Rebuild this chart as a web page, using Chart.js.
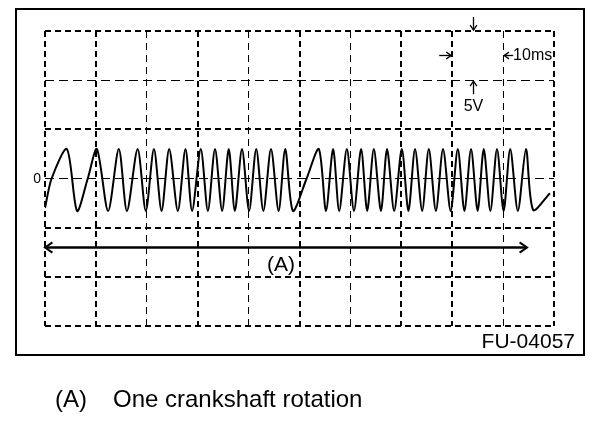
<!DOCTYPE html>
<html>
<head>
<meta charset="utf-8">
<title>Crank angle sensor waveform</title>
<script src="https://cdn.jsdelivr.net/npm/chart.js@4/dist/chart.umd.min.js"></script>
<style>
    html, body { margin: 0; padding: 0; background: #fff; }
    canvas { display: block; }
</style>
</head>
<body>
<canvas id="scope" width="608" height="430"></canvas>
<script>
// waveform: time in ms (10 ms/div), voltage in V (5 V/div)
const timeMs = [
    0, 1.3, 4.3, 6.3, 8.4, 10.2, 12.4, 14.5, 16.1, 18.2, 19.8, 21.4, 22.9, 24.4,
    26.1, 27.6, 28.9, 30.6, 32.0, 33.4, 34.8, 36.1, 37.3, 38.7, 40.1, 41.5, 42.9,
    44.4, 45.9, 47.2, 48.7, 51.4, 53.8, 55.2, 56.6, 57.8, 59.3, 60.7, 62.1, 63.3,
    64.6, 66.0, 67.2, 68.6, 70.1, 71.4, 72.7, 74.1, 75.4, 76.8, 78.2, 79.7, 81.1,
    82.4, 83.7, 85.0, 86.2, 87.5, 88.8, 90.1, 91.4, 92.9, 94.5, 95.9, 99.2
];
const voltage = [
    -3.0, 0, 3.0, -3.3, 0, 3.0, -3.3, 3.0, -3.3, 3.0, -3.3, 3.0, -3.3, 3.0,
    -3.3, 3.0, -3.3, 3.0, -3.3, 3.0, -3.3, 3.0, -3.3, 3.0, -3.3, 3.0, -3.3,
    3.0, -3.3, 3.0, -3.3, 0, 3.0, -3.3, 3.0, -3.3, 3.0, -3.3, 3.0, -3.3,
    3.0, -3.3, 3.0, -3.3, 3.0, -3.3, 3.0, -3.3, 3.0, -3.3, 3.0, -3.3, 3.0,
    -3.3, 3.0, -3.3, 3.0, -3.3, 3.0, -3.3, 3.0, -3.3, 3.0, -3.2, -1.5
];
// one crankshaft rotation marker (A)
const rotationStart = 0;
const rotationEnd = 94.7;
const rotationLevel = -7;

// heavy dashed divisions on the graticule
const heavyX = [0, 10, 30, 50, 70, 80, 100];
const heavyY = [15, 5, -5, -10, -15];

const FONT = "'Liberation Sans', Arial, sans-serif";

function arrowHead(c, x, y, dx, dy, size) {
    // open chevron pointing along (dx, dy)
    const a = Math.atan2(dy, dx);
    c.beginPath();
    c.moveTo(x - size * Math.cos(a - 0.6), y - size * Math.sin(a - 0.6));
    c.lineTo(x, y);
    c.lineTo(x - size * Math.cos(a + 0.6), y - size * Math.sin(a + 0.6));
    c.stroke();
}

function arrow(c, x1, y1, x2, y2, size) {
    c.beginPath();
    c.moveTo(x1, y1);
    c.lineTo(x2, y2);
    c.stroke();
    arrowHead(c, x2, y2, x2 - x1, y2 - y1, size);
}

const labels = {
    id: "labels",
    afterDraw(chart) {
        const c = chart.ctx;
        const xs = chart.scales.x;
        const ys = chart.scales.y;
        c.save();
        c.strokeStyle = "#000";
        c.fillStyle = "#000";
        c.setLineDash([]);

        // outer frame
        c.lineWidth = 2;
        c.strokeRect(16, 9, 568, 346);

        // rotation arrow
        const ay = Math.round(ys.getPixelForValue(rotationLevel)) + 0.5;
        const ax1 = xs.getPixelForValue(rotationStart);
        const ax2 = xs.getPixelForValue(rotationEnd);
        c.lineWidth = 2.5;
        c.beginPath();
        c.moveTo(ax1, ay);
        c.lineTo(ax2, ay);
        c.stroke();
        c.lineWidth = 2;
        arrowHead(c, ax1, ay, -1, 0, 9);
        arrowHead(c, ax2, ay, 1, 0, 9);

        c.font = "21px " + FONT;
        c.textAlign = "center";
        c.textBaseline = "alphabetic";
        c.fillText("(A)", 281, 271);

        // zero marker
        c.font = "14px " + FONT;
        c.textAlign = "right";
        c.textBaseline = "middle";
        c.fillText("0", 41, ys.getPixelForValue(0) + 1);

        // scale marks: 10 ms / div and 5 V / div
        const t1 = xs.getPixelForValue(80);
        const t2 = xs.getPixelForValue(90);
        const v1 = ys.getPixelForValue(15);
        const v2 = ys.getPixelForValue(10);
        const vx = 473.5;
        c.lineWidth = 1.3;
        arrow(c, t1 - 13, 55.5, t1 - 1, 55.5, 6);
        arrow(c, t2 + 10, 55.5, t2 + 1, 55.5, 6);
        arrow(c, vx, v1 - 14, vx, v1 - 1, 6);
        arrow(c, vx, v2 + 14, vx, v2 + 1, 6);

        c.font = "16px " + FONT;
        c.textAlign = "left";
        c.fillText("10ms", t2 + 10, 56);
        c.textAlign = "center";
        c.fillText("5V", vx, 107);

        // figure id and caption
        c.font = "21px " + FONT;
        c.textAlign = "right";
        c.textBaseline = "alphabetic";
        c.fillText("FU-04057", 575, 348);

        c.font = "24px " + FONT;
        c.textAlign = "left";
        c.fillText("(A)", 55, 407);
        c.fillText("One crankshaft rotation", 113, 407);
        c.restore();
    }
};

function makeScopeChart() {
    const points = timeMs.map((t, i) => ({ x: t, y: voltage[i] }));
    new Chart(document.getElementById("scope"), {
        type: "line",
        data: {
            datasets: [{
                data: points,
                borderColor: "#000",
                borderWidth: 2,
                pointRadius: 0,
                fill: false,
                tension: 0.28
            }]
        },
        options: {
            responsive: false,
            animation: false,
            layout: { padding: { left: 45, right: 54, top: 31, bottom: 104 } },
            plugins: {
                legend: { display: false },
                tooltip: { enabled: false }
            },
            scales: {
                x: {
                    type: "linear",
                    min: 0,
                    max: 100,
                    ticks: { stepSize: 10, display: false },
                    grid: {
                        drawTicks: false,
                        color: "#000",
                        lineWidth: (ctx) => heavyX.includes(ctx.tick.value) ? 2 : 1
                    },
                    border: {
                        display: false,
                        dash: (ctx) => heavyX.includes(ctx.tick.value) ? [6, 4] : [7, 5]
                    }
                },
                y: {
                    min: -15,
                    max: 15,
                    ticks: { stepSize: 5, display: false },
                    grid: {
                        drawTicks: false,
                        color: "#000",
                        lineWidth: (ctx) => heavyY.includes(ctx.tick.value) ? 2 : 1
                    },
                    border: {
                        display: false,
                        dash: (ctx) => heavyY.includes(ctx.tick.value) ? [6, 4] : [9, 5]
                    }
                }
            }
        },
        plugins: [labels]
    });
}

makeScopeChart();
</script>
</body>
</html>
